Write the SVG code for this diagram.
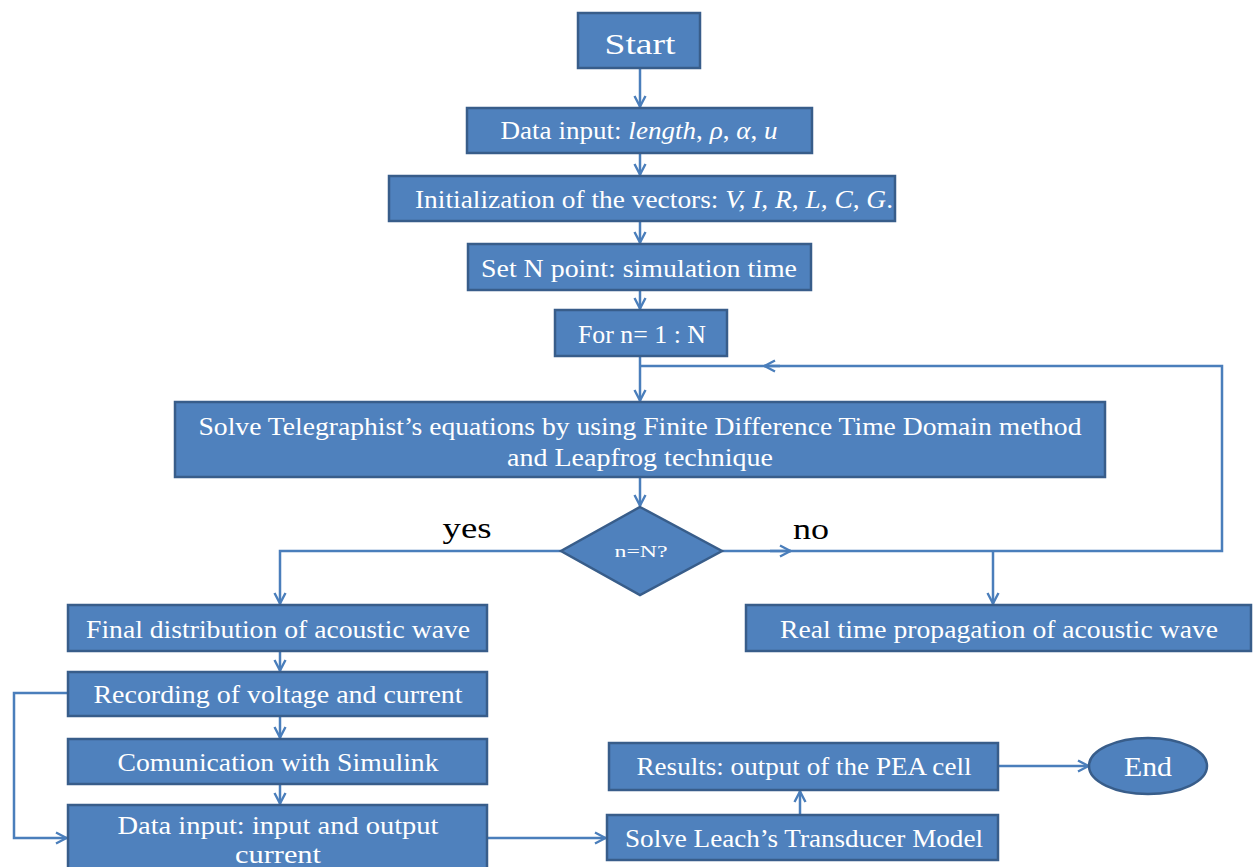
<svg xmlns="http://www.w3.org/2000/svg" width="1256" height="867" viewBox="0 0 1256 867">
  <style>
    .box { fill: #4f81bd; stroke: #385d8a; stroke-width: 2.5; }
    .lbl { font-family: "Liberation Serif", "DejaVu Serif", serif; fill: #ffffff; font-size: 25px; text-anchor: middle; }
    .it { font-style: italic; }
    .tag { font-family: "Liberation Serif", "DejaVu Serif", serif; fill: #000000; font-size: 30px; text-anchor: middle; }
    .wire { fill: none; stroke: #4a7ebb; stroke-width: 2.5; }
  </style>
  <defs>
    <marker id="arrow" viewBox="0 0 14 14" refX="13" refY="7" markerWidth="14" markerHeight="14" markerUnits="userSpaceOnUse" orient="auto">
      <path d="M2,1.5 L12.5,7 L2,12.5" fill="none" stroke="#4a7ebb" stroke-width="2.4"/>
    </marker>
  </defs>

  <rect width="1256" height="867" fill="#ffffff"/>

  <!-- connectors -->
  <g id="connectors">
    <path class="wire" d="M640,68 V107" marker-end="url(#arrow)"/>
    <path class="wire" d="M640,153 V175" marker-end="url(#arrow)"/>
    <path class="wire" d="M640,221 V243" marker-end="url(#arrow)"/>
    <path class="wire" d="M640,290 V309" marker-end="url(#arrow)"/>
    <path class="wire" d="M640,356 V401" marker-end="url(#arrow)"/>
    <path class="wire" d="M640,477 V506" marker-end="url(#arrow)"/>
    <!-- loop back to the solver -->
    <path class="wire" d="M722,551 H1222 V366 H640"/>
    <path class="wire" d="M780,366 H764" marker-end="url(#arrow)"/>
    <path class="wire" d="M770,551 H791" marker-end="url(#arrow)"/>
    <path class="wire" d="M993,551 V604" marker-end="url(#arrow)"/>
    <!-- yes branch -->
    <path class="wire" d="M561,551 H280 V604" marker-end="url(#arrow)"/>
    <path class="wire" d="M280,651 V671" marker-end="url(#arrow)"/>
    <path class="wire" d="M280,716 V738" marker-end="url(#arrow)"/>
    <path class="wire" d="M280,784 V804" marker-end="url(#arrow)"/>
    <path class="wire" d="M68,693 H14 V838 H67" marker-end="url(#arrow)"/>
    <path class="wire" d="M487,838 H606" marker-end="url(#arrow)"/>
    <path class="wire" d="M800,815 V791" marker-end="url(#arrow)"/>
    <path class="wire" d="M998,766 H1089" marker-end="url(#arrow)"/>
  </g>

  <g id="start">
    <rect class="box" x="578" y="13" width="122" height="55"/>
    <text class="lbl" x="640" y="54" style="font-size:30px" textLength="71" lengthAdjust="spacingAndGlyphs">Start</text>
  </g>

  <g id="data-input">
    <rect class="box" x="467" y="108" width="345" height="45"/>
    <text class="lbl" x="639" y="139" textLength="277" lengthAdjust="spacingAndGlyphs">Data input: <tspan class="it">length</tspan>, <tspan class="it">ρ</tspan>, <tspan class="it">α</tspan>, <tspan class="it">u</tspan></text>
  </g>

  <g id="init-vectors">
    <rect class="box" x="389" y="176" width="506" height="45"/>
    <text class="lbl" x="654" y="208" textLength="478" lengthAdjust="spacingAndGlyphs">Initialization of the vectors: <tspan class="it">V, I, R, L, C, G</tspan>.</text>
  </g>

  <g id="set-n">
    <rect class="box" x="468" y="244" width="343" height="46"/>
    <text class="lbl" x="639" y="277" textLength="316" lengthAdjust="spacingAndGlyphs">Set N point: simulation time</text>
  </g>

  <g id="for-loop">
    <rect class="box" x="555" y="310" width="172" height="46"/>
    <text class="lbl" x="642" y="343" textLength="128" lengthAdjust="spacingAndGlyphs">For n= 1 : N</text>
  </g>

  <g id="solve-telegraph">
    <rect class="box" x="175" y="402" width="930" height="75"/>
    <text class="lbl" x="640" y="435" style="font-size:26px" textLength="883" lengthAdjust="spacingAndGlyphs">Solve Telegraphist’s equations by using Finite Difference Time Domain method</text>
    <text class="lbl" x="640" y="466" style="font-size:26px" textLength="266" lengthAdjust="spacingAndGlyphs">and Leapfrog technique</text>
  </g>

  <g id="decision">
    <polygon class="box" points="640,507 722,551 640,595 561,551"/>
    <text class="lbl" x="641" y="557" style="font-size:16px" textLength="53" lengthAdjust="spacingAndGlyphs">n=N?</text>
  </g>

  <g id="branch-labels">
    <text class="tag" x="467" y="538" textLength="49" lengthAdjust="spacingAndGlyphs">yes</text>
    <text class="tag" x="811" y="539" textLength="36" lengthAdjust="spacingAndGlyphs">no</text>
  </g>

  <g id="final-distribution">
    <rect class="box" x="68" y="605" width="419" height="46"/>
    <text class="lbl" x="278" y="638" textLength="384" lengthAdjust="spacingAndGlyphs">Final distribution of acoustic wave</text>
  </g>

  <g id="real-time">
    <rect class="box" x="746" y="605" width="505" height="46"/>
    <text class="lbl" x="999" y="638" textLength="438" lengthAdjust="spacingAndGlyphs">Real time propagation of acoustic wave</text>
  </g>

  <g id="recording">
    <rect class="box" x="68" y="672" width="419" height="44"/>
    <text class="lbl" x="278" y="703" textLength="369" lengthAdjust="spacingAndGlyphs">Recording of voltage and current</text>
  </g>

  <g id="simulink">
    <rect class="box" x="68" y="739" width="419" height="45"/>
    <text class="lbl" x="278" y="771" textLength="321" lengthAdjust="spacingAndGlyphs">Comunication with Simulink</text>
  </g>

  <g id="data-input-current">
    <rect class="box" x="68" y="805" width="419" height="70"/>
    <text class="lbl" x="278" y="834" textLength="321" lengthAdjust="spacingAndGlyphs">Data input: input and output</text>
    <text class="lbl" x="278" y="863" textLength="86" lengthAdjust="spacingAndGlyphs">current</text>
  </g>

  <g id="leach">
    <rect class="box" x="607" y="815" width="391" height="45"/>
    <text class="lbl" x="804" y="847" textLength="358" lengthAdjust="spacingAndGlyphs">Solve Leach’s Transducer Model</text>
  </g>

  <g id="results">
    <rect class="box" x="609" y="743" width="389" height="47"/>
    <text class="lbl" x="804" y="775" textLength="335" lengthAdjust="spacingAndGlyphs">Results: output of the PEA cell</text>
  </g>

  <g id="end">
    <ellipse class="box" cx="1148" cy="766" rx="59" ry="28"/>
    <text class="lbl" x="1148" y="776" style="font-size:27px" textLength="48" lengthAdjust="spacingAndGlyphs">End</text>
  </g>
</svg>
